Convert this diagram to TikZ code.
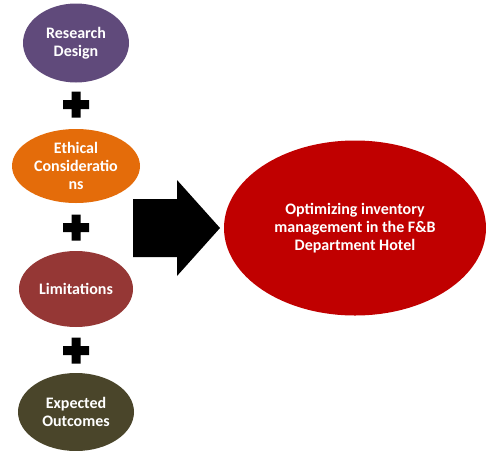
\documentclass[tikz,border=0pt]{standalone}
\usepackage{fontspec}
\setmainfont{Carlito}
\usetikzlibrary{shapes.geometric,calc}

\definecolor{designcol}{HTML}{604A7B}
\definecolor{ethicscol}{HTML}{E46C0A}
\definecolor{limitcol}{HTML}{953735}
\definecolor{outcomecol}{HTML}{4A452A}
\definecolor{goalcol}{HTML}{C00000}

\begin{document}
\begin{tikzpicture}[x=1pt,y=-1pt,main/.style = {ellipse, inner sep=0pt, text=white, align=center, font=\bfseries\fontsize{16}{18}\selectfont},node distance={123pt}]
\useasboundingbox (0,0) rectangle (486,450);
\node[main, fill=designcol, minimum width=106pt, minimum height=79pt] (1) at (76,43) {Research\\Design};
\node[main, fill=ethicscol, minimum width=128pt, minimum height=74pt] (2) [below of=1] {Ethical\\Consideratio\\ns};
\node[main, fill=limitcol, minimum width=114pt, minimum height=76pt] (3) [below of=2] {Limitations};
\node[main, fill=outcomecol, minimum width=116pt, minimum height=78pt] (4) [below of=3] {Expected\\Outcomes};
\node[main, fill=goalcol, minimum width=262pt, minimum height=175pt] (5) at (355,228) {Optimizing inventory\\management in the F\&B\\Department Hotel};
% plus signs between the steps
\foreach \a/\b in {1/2,2/3,3/4}
  \fill ($(\a)!.5!(\b)$) +(-13,-4.5) rectangle +(13,4.5) +(-4.5,-13) rectangle +(4.5,13);
% big arrow into the goal
\fill (133,199) -- (177,199) -- (177,180) -- (220,228) -- (177,276) -- (177,257) -- (133,257) -- cycle;
\end{tikzpicture}
\end{document}
